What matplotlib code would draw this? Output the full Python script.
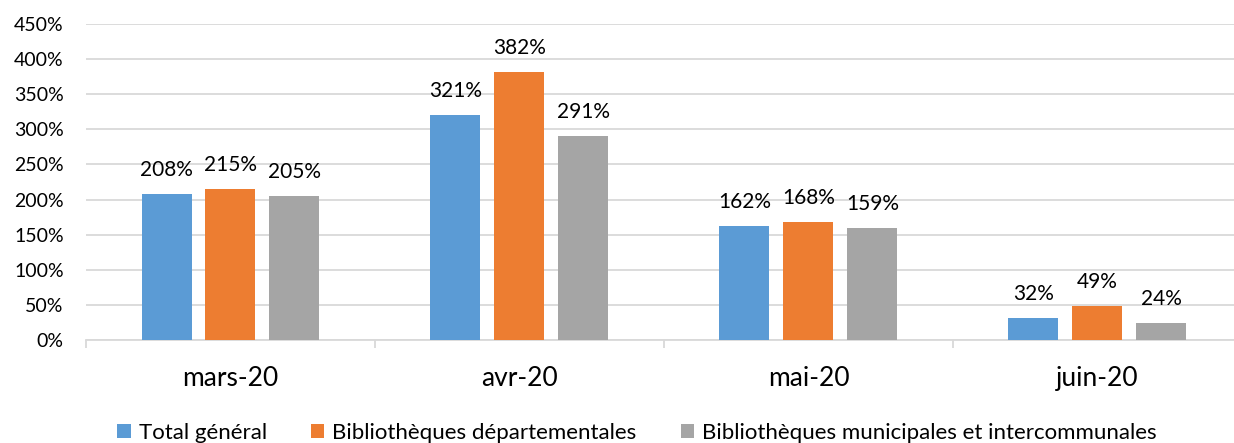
import matplotlib
matplotlib.use("Agg")
import matplotlib.pyplot as plt
from matplotlib.patches import Patch
import numpy as np

categories = ["mars-20", "avr-20", "mai-20", "juin-20"]
series_names = ["Total général", "Bibliothèques départementales",
                "Bibliothèques municipales et intercommunales"]
total = [208, 321, 162, 32]
departementales = [215, 382, 168, 49]
municipales = [205, 291, 159, 24]
yticks = [0, 50, 100, 150, 200, 250, 300, 350, 400, 450]

colors = ["#5B9BD5", "#ED7D31", "#A5A5A5"]
plt.rcParams['font.family'] = ['Lato', 'DejaVu Sans']

fig = plt.figure(figsize=(12.34, 4.43), dpi=100)
ax = fig.add_axes([86/1234, 103/443, 1156/1234, 316/443])

x = np.arange(len(categories))
step = 64/289
width = 50/289
data = [total, departementales, municipales]
for i, (vals, c) in enumerate(zip(data, colors)):
    pos = x + (i - 1) * step
    bars = ax.bar(pos, vals, width=width, color=c, zorder=3)
    for b, v in zip(bars, vals):
        ax.annotate(f"{v}%", (b.get_x() + b.get_width()/2, v),
                    xytext=(0, 10), textcoords="offset points",
                    ha="center", va="bottom", fontsize=15, color="#000000")

ax.set_xlim(-0.5, 3.5)
ax.set_ylim(0, 450)
ax.set_yticks(yticks)
ax.set_yticklabels([f"{v}%" for v in yticks], fontsize=14)
ax.yaxis.grid(True, color="#D9D9D9", linewidth=1.3, zorder=0)
ax.tick_params(axis="y", length=0, pad=16)
ax.set_xticks(x)
ax.set_xticklabels(categories, fontsize=19)
ax.tick_params(axis="x", which="major", length=0, pad=19)
ax.set_xticks(np.arange(-0.5, 4.0, 1.0), minor=True)
ax.tick_params(axis="x", which="minor", length=6, color="#D9D9D9", width=1.3)
for s in ["left", "right", "top"]:
    ax.spines[s].set_visible(False)
ax.spines["bottom"].set_color("#D9D9D9")
ax.spines["bottom"].set_linewidth(1.3)

handles = [Patch(facecolor=c, edgecolor="none") for c in colors]
fig.legend(handles, series_names, loc="center", bbox_to_anchor=(637/1234, 1 - 433/443),
           ncol=3, frameon=False, fontsize=16, handlelength=0.6, handleheight=0.6,
           handletextpad=0.35, columnspacing=2.0, borderpad=0)

fig.savefig("out.png", dpi=100)
